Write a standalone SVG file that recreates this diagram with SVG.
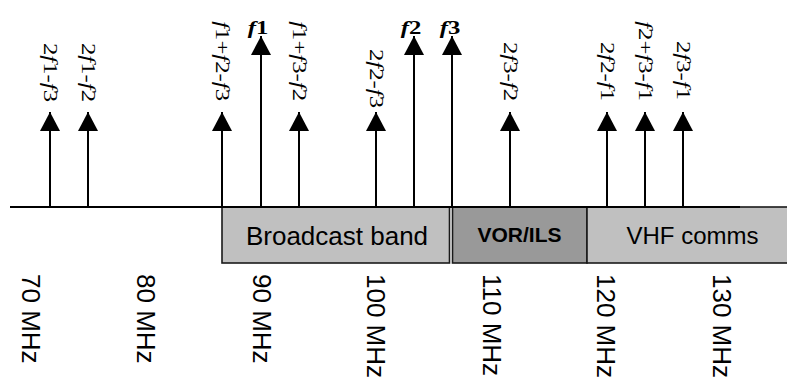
<svg xmlns="http://www.w3.org/2000/svg" width="787" height="381" viewBox="0 0 787 381">
<style>
  .sig { stroke: #000; stroke-width: 2; fill: none; marker-end: url(#ah); }
  .lbl { font-family: "Liberation Serif", "Times New Roman", serif; font-size: 19px; fill: #000; }
  .big { font-family: "Liberation Serif", "Times New Roman", serif; font-size: 19px; font-weight: bold; fill: #000; }
  .it { font-style: italic; }
  .band { stroke: #1a1a1a; stroke-width: 1.6; }
  .light { fill: #c0c0c0; }
  .dark { fill: #999999; }
  .bandtxt { font-family: "Liberation Sans", Arial, sans-serif; fill: #000; }
  .mhz { font-family: "Liberation Sans", Arial, sans-serif; font-size: 26px; fill: #000; }
</style>
<defs>
  <marker id="ah" markerUnits="userSpaceOnUse" markerWidth="20" markerHeight="20" refX="19" refY="10" orient="auto">
    <path d="M0,0 L19,10 L0,20 Z" fill="#000"/>
  </marker>
</defs>

<g id="bands">
  <g id="band-broadcast">
    <rect class="band light" x="222" y="207" width="227.5" height="56"/>
    <text class="bandtxt" x="337" y="245" font-size="26" text-anchor="middle">Broadcast band</text>
  </g>
  <g id="band-vorils">
    <rect class="band dark" x="452.5" y="207" width="134.5" height="56"/>
    <text class="bandtxt" x="519.5" y="242" font-size="21" font-weight="bold" text-anchor="middle">VOR/ILS</text>
  </g>
  <g id="band-vhf">
    <rect class="band light" x="587" y="207" width="220" height="56"/>
    <text class="bandtxt" x="692.5" y="244" font-size="24" text-anchor="middle">VHF comms</text>
  </g>
</g>

<g id="axis">
  <line x1="10" y1="207" x2="740" y2="207" stroke="#000" stroke-width="2"/>
</g>

<g id="connectors">
  <line class="sig" x1="50" y1="207" x2="50" y2="112"/>
  <line class="sig" x1="88" y1="207" x2="88" y2="112"/>
  <line class="sig" x1="222" y1="207" x2="222" y2="112"/>
  <line class="sig" x1="261" y1="207" x2="261" y2="36"/>
  <line class="sig" x1="299" y1="207" x2="299" y2="112"/>
  <line class="sig" x1="376" y1="207" x2="376" y2="112"/>
  <line class="sig" x1="414" y1="207" x2="414" y2="36"/>
  <line class="sig" x1="452" y1="207" x2="452" y2="36"/>
  <line class="sig" x1="510" y1="207" x2="510" y2="112"/>
  <line class="sig" x1="607" y1="207" x2="607" y2="112"/>
  <line class="sig" x1="645" y1="207" x2="645" y2="112"/>
  <line class="sig" x1="683" y1="207" x2="683" y2="112"/>
</g>

<g id="signal-labels">
  <g id="lbl-2f1-f3"><text class="lbl" text-anchor="end" transform="translate(44,102) rotate(90) scale(1.3,1)">2<tspan class="it">f</tspan>1-<tspan class="it">f</tspan>3</text></g>
  <g id="lbl-2f1-f2"><text class="lbl" text-anchor="end" transform="translate(82,102) rotate(90) scale(1.3,1)">2<tspan class="it">f</tspan>1-<tspan class="it">f</tspan>2</text></g>
  <g id="lbl-f1+f2-f3"><text class="lbl" text-anchor="end" transform="translate(216,101) rotate(90) scale(1.3,1)"><tspan class="it">f</tspan>1+<tspan class="it">f</tspan>2-<tspan class="it">f</tspan>3</text></g>
  <g id="lbl-f1+f3-f2"><text class="lbl" text-anchor="end" transform="translate(293,101) rotate(90) scale(1.3,1)"><tspan class="it">f</tspan>1+<tspan class="it">f</tspan>3-<tspan class="it">f</tspan>2</text></g>
  <g id="lbl-2f2-f3"><text class="lbl" text-anchor="end" transform="translate(370,108) rotate(90) scale(1.3,1)">2<tspan class="it">f</tspan>2-<tspan class="it">f</tspan>3</text></g>
  <g id="lbl-2f3-f2"><text class="lbl" text-anchor="end" transform="translate(504,101) rotate(90) scale(1.3,1)">2<tspan class="it">f</tspan>3-<tspan class="it">f</tspan>2</text></g>
  <g id="lbl-2f2-f1"><text class="lbl" text-anchor="end" transform="translate(601,101) rotate(90) scale(1.3,1)">2<tspan class="it">f</tspan>2-<tspan class="it">f</tspan>1</text></g>
  <g id="lbl-f2+f3-f1"><text class="lbl" text-anchor="end" transform="translate(639,101) rotate(90) scale(1.3,1)"><tspan class="it">f</tspan>2+<tspan class="it">f</tspan>3-<tspan class="it">f</tspan>1</text></g>
  <g id="lbl-2f3-f1"><text class="lbl" text-anchor="end" transform="translate(677,100) rotate(90) scale(1.3,1)">2<tspan class="it">f</tspan>3-<tspan class="it">f</tspan>1</text></g>
  <g id="lbl-f1"><text class="big" text-anchor="middle" transform="translate(258,34) scale(1.3,1)"><tspan class="it">f</tspan>1</text></g>
  <g id="lbl-f2"><text class="big" text-anchor="middle" transform="translate(411,34) scale(1.3,1)"><tspan class="it">f</tspan>2</text></g>
  <g id="lbl-f3"><text class="big" text-anchor="middle" transform="translate(450,34) scale(1.3,1)"><tspan class="it">f</tspan>3</text></g>
</g>

<g id="scale-labels">
  <text class="mhz" transform="translate(22,274) rotate(90)">70 MHz</text>
  <text class="mhz" transform="translate(137,274) rotate(90)">80 MHz</text>
  <text class="mhz" transform="translate(253,274) rotate(90)">90 MHz</text>
  <text class="mhz" transform="translate(367,274) rotate(90)">100 MHz</text>
  <text class="mhz" transform="translate(483,274) rotate(90)">110 MHz</text>
  <text class="mhz" transform="translate(597,274) rotate(90)">120 MHz</text>
  <text class="mhz" transform="translate(713,274) rotate(90)">130 MHz</text>
</g>
</svg>
